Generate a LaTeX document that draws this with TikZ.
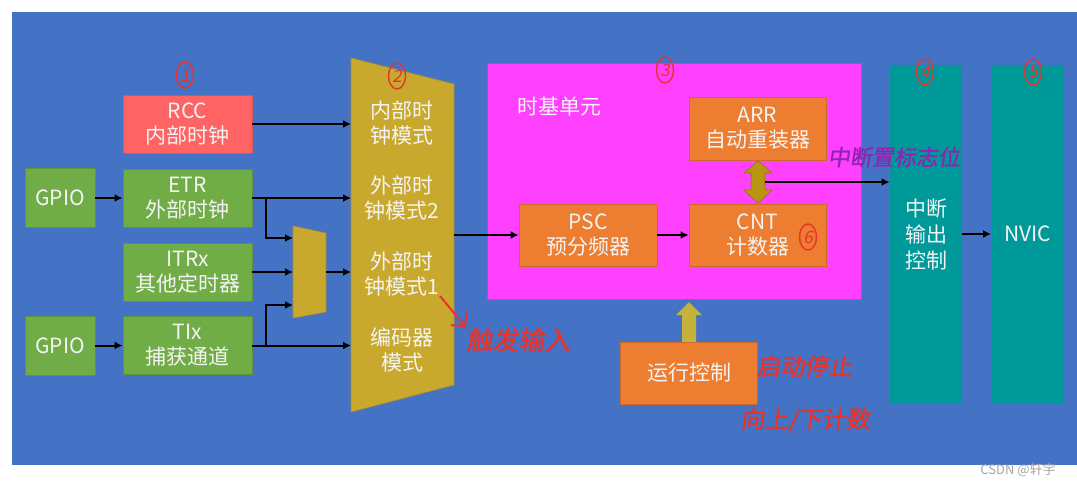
\documentclass[tikz,border=0pt]{standalone}
\usepackage{fontspec}
\setmainfont{Noto Sans CJK SC}
\usepackage{tikz}
\usetikzlibrary{arrows.meta,shapes.geometric}

\definecolor{panel}{HTML}{4472C4}
\definecolor{rccred}{HTML}{FF6363}
\definecolor{ingreen}{HTML}{70AD47}
\definecolor{muxgold}{HTML}{C9A82E}
\definecolor{upgold}{HTML}{C4B23A}
\definecolor{dblgold}{HTML}{B8960F}
\definecolor{tbmag}{HTML}{FF40FF}
\definecolor{regorange}{HTML}{ED7D31}
\definecolor{outteal}{HTML}{00999A}
\definecolor{txt}{HTML}{F4F4F4}
\definecolor{ink}{HTML}{E8322A}
\definecolor{purp}{HTML}{8E24B0}

\begin{document}
\begin{tikzpicture}[x=0.5pt,y=-0.5pt,
  blk/.style={draw=#1!85!black, line width=0.4pt, fill=#1, text=txt, align=center,
    inner sep=0pt, minimum width=64.5pt, minimum height=29pt,
    font=\fontsize{10.5}{12.5}\selectfont},
  col/.style={blk=outteal, draw=none, minimum width=36pt, minimum height=169pt,
    font=\fontsize{10.5}{13}\selectfont},
  muxtxt/.style={text=txt, align=center, inner sep=0pt, font=\fontsize{10.5}{12.5}\selectfont},
  wire/.style={line width=1pt, -{Latex[length=4pt,width=4pt]}},
  numtag/.style={ellipse, draw=ink, line width=0.7pt, text=ink, inner sep=0pt,
    minimum width=8.5pt, minimum height=13pt, font=\fontsize{8.5}{8.5}\selectfont\addfontfeature{FakeSlant=0.2}},
  hand/.style={inner sep=0pt, font=\fontsize{#1}{#1}\selectfont\addfontfeature{FakeSlant=0.15,FakeBold=1.2}},
  mux/.style={fill=muxgold, draw=muxgold!85!black, line width=0.3pt}]
\useasboundingbox (0,0) rectangle (1077,484);
\fill[white] (0,0) rectangle (1077,484);
\fill[panel] (12,12) rectangle (1077,465);

% Clock sources
\node[blk=rccred] (rcc) at (187.5,124) {RCC\\内部时钟};
\node[blk=ingreen, minimum width=35pt, minimum height=29.5pt] (gpioA) at (60,198) {GPIO};
\node[blk=ingreen] (etr) at (187.5,198) {ETR\\外部时钟};
\node[blk=ingreen] (itr) at (187.5,272) {ITRx\\其他定时器};
\node[blk=ingreen, minimum width=35pt, minimum height=29.5pt] (gpioB) at (60,345.5) {GPIO};
\node[blk=ingreen] (tix) at (187.5,345.5) {TIx\\捕获通道};

% Mode selectors
\fill[mux] (293,226) -- (326,233) -- (326,312) -- (293,318) -- cycle;
\fill[mux] (351,58) -- (454,84) -- (454,385) -- (351,412) -- cycle;
\node[muxtxt] (mdint) at (402,122.5) {内部时\\钟模式};
\node[muxtxt] (mdext2) at (402,197.5) {外部时\\钟模式2};
\node[muxtxt] (mdext1) at (402,273.5) {外部时\\钟模式1};
\node[muxtxt] (mdenc) at (402,350) {编码器\\模式};
\coordinate (bm-in) at (351,0);
\coordinate (br) at (266,0);
\coordinate (sm-in) at (293,0);
\coordinate (sm-a) at (293,238);
\coordinate (sm-c) at (293,305);
\coordinate (sm-out) at (326,272);
\coordinate (bm-out) at (454,235);

% Time base unit
\node[fill=tbmag, draw=tbmag!85!black, line width=0.3pt, minimum width=187pt, minimum height=118pt] (tbu) at (674,181) {};
\node[text=txt, anchor=west, inner sep=0pt, font=\fontsize{10.5}{12.5}\selectfont] (tbname) at (517,107) {时基单元};
\node[blk=regorange, minimum width=68.5pt, minimum height=31.5pt] (arr) at (757.5,128.5) {ARR\\自动重装器};
\node[blk=regorange, minimum width=69pt, minimum height=31pt] (psc) at (588,235) {PSC\\预分频器};
\node[blk=regorange, minimum width=68.5pt, minimum height=31pt] (cnt) at (757.5,235) {CNT\\计数器};
\node[blk=regorange, minimum width=68.5pt, minimum height=31pt] (run) at (689,373) {运行控制};
\fill[dblgold, draw=dblgold!80!black, line width=0.3pt] (758,161) -- (772,173) -- (765,173) -- (765,190) -- (772,190) -- (758,203) -- (744,190) -- (751,190) -- (751,173) -- (744,173) -- cycle;
\fill[upgold] (689,302) -- (702,315) -- (696,315) -- (696,342) -- (682,342) -- (682,315) -- (676,315) -- cycle;
\coordinate (dbl-r) at (765,182);

% Outputs
\node[col] (intc) at (926,234) {中断\\输出\\控制};
\node[col] (nvic) at (1027.5,234) {NVIC};

% Connections
\draw[wire] (rcc) -- (rcc -| bm-in);
\draw[wire] (gpioA) -- (etr);
\draw[wire] (etr) -- (etr -| bm-in);
\draw[wire] (etr -| br) |- (sm-a);
\draw[wire] (itr) -- (itr -| sm-in);
\draw[wire] (gpioB) -- (tix);
\draw[wire] (tix) -- (tix -| bm-in);
\draw[wire] (tix -| br) |- (sm-c);
\draw[wire] (sm-out) -- (sm-out -| bm-in);
\draw[wire] (bm-out) -- (psc);
\draw[wire] (psc) -- (cnt);
\draw[wire] (dbl-r) -- (dbl-r -| intc.west);
\draw[wire] (intc) -- (nvic);

% Handwritten notes
\node[numtag] (n1) at (185,75) {1};
\node[numtag] (n2) at (397,76) {2};
\node[numtag] (n3) at (665,70) {3};
\node[numtag] (n4) at (925,72) {4};
\node[numtag] (n5) at (1033,72) {5};
\node[numtag] (n6) at (808,237) {6};
\node[hand=13, text=ink, anchor=west] (trig) at (466,340) {触发输入};
\coordinate (trig-s) at (440,296);
\draw[ink, line width=1pt, -{Straight Barb[length=5pt]}] (trig-s) -- (trig.north west);
\node[hand=11, text=purp] (flag) at (894,157) {中断置标志位};
\node[hand=12, text=ink, anchor=west] (startstop) at (756,366) {启动停止};
\node[hand=12, text=ink, anchor=west] (updown) at (740,420) {向上/下计数};

\node[text=gray!70, inner sep=0pt, font=\fontsize{6.5}{6.5}\selectfont] (mark) at (1018,470) {CSDN @轩宇};
\end{tikzpicture}
\end{document}
